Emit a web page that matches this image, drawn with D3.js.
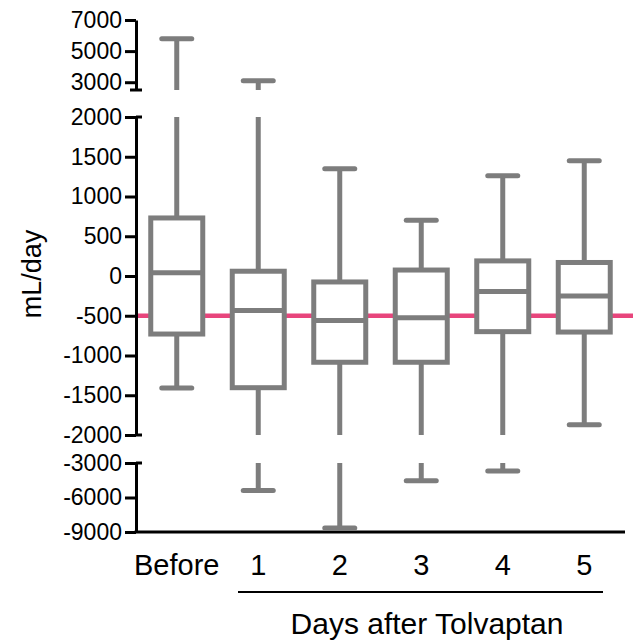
<!DOCTYPE html>
<html>
<head>
<meta charset="utf-8">
<script src="https://cdn.jsdelivr.net/npm/d3@7"></script>
<style>
  body { margin: 0; background: #fff; }
  svg text { font-family: "Century Gothic", "Liberation Sans", Arial, sans-serif; fill: #000; }
</style>
</head>
<body>
<svg id="chart" width="638" height="641"></svg>
<script>
// Box plot data (mL/day)
const categories = ["Before", "1", "2", "3", "4", "5"];
const whiskerMax = [5800, 3100, 1350, 700, 1260, 1450];
const q3 = [730, 60, -75, 75, 190, 170];
const median = [40, -435, -560, -525, -195, -250];
const q1 = [-730, -1405, -1085, -1085, -700, -705];
const whiskerMin = [-1410, -5400, -8650, -4550, -3700, -1870];

// broken y axis: three segments
const segTop = { domain: [2500, 7000], range: [90, 20], ticks: [3000, 5000, 7000] };
const segMid = { domain: [-2000, 2000], range: [435, 117], ticks: [-2000, -1500, -1000, -500, 0, 500, 1000, 1500, 2000] };
const segBot = { domain: [-9000, -3000], range: [532, 463], ticks: [-9000, -6000, -3000] };
const segments = [segTop, segMid, segBot];
const refLine = -500;

const svg = d3.select('#chart');
const x0 = 136, x1 = 625;
const grey = '#7d7d7d';
const pink = '#e8457c';

segments.forEach(s => { s.scale = d3.scaleLinear().domain(s.domain).range(s.range); });

const x = d3.scalePoint().domain(categories).range([x0, x1]).padding(0.5);
const boxW = 52, capW = 30;

// reference line
svg.append('line')
    .attr('x1', x0).attr('x2', 633)
    .attr('y1', segMid.scale(refLine)).attr('y2', segMid.scale(refLine))
    .attr('stroke', pink).attr('stroke-width', 4.5);

// y axis segments
segments.forEach(s => {
    const ax = d3.axisLeft(s.scale)
        .tickValues(s.ticks)
        .tickSize(11)
        .tickSizeOuter(0)
        .tickPadding(3)
        .tickFormat(d3.format('d'));
    const g = svg.append('g')
        .attr('transform', `translate(${x0},0)`)
        .call(ax);
    g.select('.domain').attr('stroke', '#000').attr('stroke-width', 3);
    g.selectAll('.tick line').attr('stroke', '#000').attr('stroke-width', 3);
    g.selectAll('.tick text')
        .style('font-size', '23px')
        .text(d => d < 0 ? '-' + Math.abs(d) : d);
});

// segment end bars
[segTop.scale(2500)].forEach(y => {
    svg.append('line').attr('x1', x0 - 6).attr('x2', x0 + 6).attr('y1', y).attr('y2', y)
        .attr('stroke', '#000').attr('stroke-width', 3);
});
[segMid.scale(2000), segMid.scale(-2000), segBot.scale(-3000)].forEach(y => {
    svg.append('line').attr('x1', x0).attr('x2', x0 + 6).attr('y1', y).attr('y2', y)
        .attr('stroke', '#000').attr('stroke-width', 3);
});

// x axis line
svg.append('line')
    .attr('x1', x0 - 1.5).attr('x2', x1)
    .attr('y1', segBot.scale(-9000)).attr('y2', segBot.scale(-9000))
    .attr('stroke', '#000').attr('stroke-width', 3);

// draw a whisker piece from value a to value b, clipped into each segment
function whisker(g, cx, a, b, capAt) {
    segments.forEach(s => {
        const lo = Math.max(Math.min(a, b), s.domain[0]);
        const hi = Math.min(Math.max(a, b), s.domain[1]);
        if (lo >= hi) return;
        g.append('line')
            .attr('x1', cx).attr('x2', cx)
            .attr('y1', s.scale(lo)).attr('y2', s.scale(hi))
            .attr('stroke', grey).attr('stroke-width', 5);
        if (capAt >= s.domain[0] && capAt <= s.domain[1]) {
            g.append('line')
                .attr('x1', cx - capW / 2).attr('x2', cx + capW / 2)
                .attr('y1', s.scale(capAt)).attr('y2', s.scale(capAt))
                .attr('stroke', grey).attr('stroke-width', 5)
                .attr('stroke-linecap', 'round');
        }
    });
}

const boxes = svg.append('g');
categories.forEach((c, i) => {
    const cx = x(c);
    const g = boxes.append('g');
    whisker(g, cx, q3[i], whiskerMax[i], whiskerMax[i]);
    whisker(g, cx, q1[i], whiskerMin[i], whiskerMin[i]);
    const y = segMid.scale;
    g.append('rect')
        .attr('x', cx - boxW / 2).attr('width', boxW)
        .attr('y', y(q3[i])).attr('height', y(q1[i]) - y(q3[i]))
        .attr('fill', '#fff').attr('stroke', grey).attr('stroke-width', 5);
    g.append('line')
        .attr('x1', cx - boxW / 2).attr('x2', cx + boxW / 2)
        .attr('y1', y(median[i])).attr('y2', y(median[i]))
        .attr('stroke', grey).attr('stroke-width', 5);
});

// category labels
svg.append('g').selectAll('text')
    .data(categories)
    .join('text')
    .attr('x', d => x(d))
    .attr('y', 575)
    .attr('text-anchor', 'middle')
    .style('font-size', '29px')
    .text(d => d);

// group line + title
svg.append('line')
    .attr('x1', 238).attr('x2', 603).attr('y1', 592).attr('y2', 592)
    .attr('stroke', '#000').attr('stroke-width', 2);
svg.append('text')
    .attr('x', 427).attr('y', 634)
    .attr('text-anchor', 'middle')
    .style('font-size', '30px')
    .text('Days after Tolvaptan');

// y label
svg.append('text')
    .attr('transform', 'translate(41,274) rotate(-90)')
    .attr('text-anchor', 'middle')
    .style('font-size', '27px')
    .text('mL/day');
</script>
</body>
</html>
